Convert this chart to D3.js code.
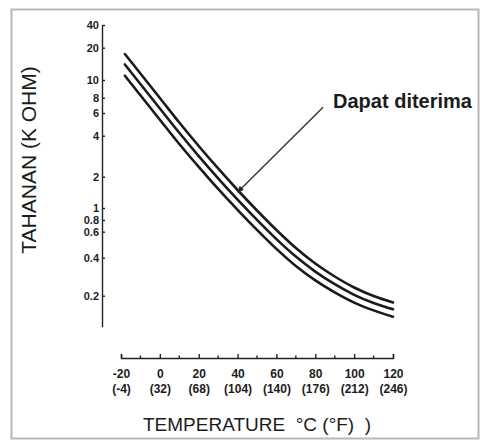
<!DOCTYPE html>
<html lang="id">
<head>
<meta charset="UTF-8">
<title>Tahanan vs Temperature</title>
<style>
  body { margin: 0; background: #fff; }
  svg { display: block; font-family: "Liberation Sans", Arial, sans-serif; }
  .axis path, .axis line { stroke: #222; stroke-width: 1.4; }
  .axis text { fill: #1c1c1c; font-family: "Liberation Sans", Arial, sans-serif; }
</style>
</head>
<body>
<svg width="480" height="441"></svg>
<script src="https://d3js.org/d3.v7.min.js"></script>
<script>
  // temperature (deg C) sampled along the curves
  var temps = [-18, 0, 10, 20, 30, 40, 50, 60, 70, 80, 90, 100, 110, 120];
  // resistance in k ohm, three parallel curves
  var upperBand = [17.47, 7.955, 5.063, 3.361, 2.298, 1.490, 0.9546, 0.6256, 0.4654, 0.3598, 0.2839, 0.2323, 0.1990, 0.1788];
  var middleBand = [13.95, 6.530, 4.213, 2.833, 1.930, 1.204, 0.8015, 0.5346, 0.4069, 0.3104, 0.2467, 0.2033, 0.1773, 0.1599];
  var lowerBand = [10.97, 5.323, 3.476, 2.360, 1.526, 0.9671, 0.6271, 0.4589, 0.3438, 0.2644, 0.2124, 0.1785, 0.1570, 0.1415];

  var yTicks = [40, 20, 10, 8, 6, 4, 2, 1, 0.8, 0.6, 0.4, 0.2];
  var yAxisEnd = 0.12;
  var xTicksC = [-20, 0, 20, 40, 60, 80, 100, 120];
  var xTicksF = ["(-4)", "(32)", "(68)", "(104)", "(140)", "(176)", "(212)", "(246)"];
  var xMinor = [-10, 10, 30, 50, 70, 90, 110];

  var arrowFrom = [84, 6.7];
  var arrowTo = [40, 1.42];
  var noteText = "Dapat diterima";

  var svg = d3.select("svg");

  // hand-drawn log axis: tick spacing is not uniform, so map each tick to where it sits
  var yTickPos = [25, 47.7, 80, 97.7, 113, 135.7, 176.7, 208, 220, 231.7, 257.7, 295.7, 326.7];

  var x = d3.scaleLinear().domain([-20, 120]).range([121, 393]);
  var y = d3.scaleLog().domain(yTicks.concat([yAxisEnd])).range(yTickPos);

  // scanned page frame
  svg.append("rect")
    .attr("x", 11.5).attr("y", 9.5)
    .attr("width", 467).attr("height", 429)
    .attr("fill", "none")
    .attr("stroke", "#b8b8b8")
    .attr("stroke-width", 2);

  // y axis
  var yAxis = d3.axisLeft(y)
    .tickValues(yTicks)
    .tickFormat(function(d) { return String(d); })
    .tickSizeInner(-3)
    .tickSizeOuter(0)
    .tickPadding(3);

  svg.append("g")
    .attr("class", "axis y")
    .attr("transform", "translate(102,0)")
    .call(yAxis)
    .selectAll("text")
    .style("font-size", "11px")
    .style("font-weight", "bold");

  // x axis, ticks pointing up
  var xAxis = d3.axisBottom(x)
    .tickValues(xTicksC)
    .tickFormat(function(d) { return String(d); })
    .tickSizeInner(-4)
    .tickSizeOuter(-4)
    .tickPadding(11);

  var gx = svg.append("g")
    .attr("class", "axis x")
    .attr("transform", "translate(0,358)")
    .call(xAxis);

  gx.selectAll(".tick text")
    .style("font-size", "12px")
    .style("font-weight", "bold");

  gx.selectAll(".tick")
    .append("text")
    .attr("y", 35)
    .attr("fill", "#1c1c1c")
    .style("font-size", "12px")
    .style("font-weight", "bold")
    .text(function(d, i) { return xTicksF[i]; });

  gx.selectAll(".minor")
    .data(xMinor)
    .enter()
    .append("line")
    .attr("class", "minor")
    .attr("x1", function(d) { return x(d); })
    .attr("x2", function(d) { return x(d); })
    .attr("y1", 0)
    .attr("y2", -2.5);

  // curves
  var line = d3.line()
    .x(function(d) { return x(d[0]); })
    .y(function(d) { return y(d[1]); })
    .curve(d3.curveCatmullRom.alpha(0.5));

  [upperBand, middleBand, lowerBand].forEach(function(band) {
    svg.append("path")
      .datum(temps.map(function(t, i) { return [t, band[i]]; }))
      .attr("d", line)
      .attr("fill", "none")
      .attr("stroke", "#1a1a1a")
      .attr("stroke-width", 2.6)
      .attr("stroke-linecap", "round");
  });

  // annotation
  svg.append("defs").append("marker")
    .attr("id", "head")
    .attr("viewBox", "0 0 10 10")
    .attr("refX", 10).attr("refY", 5)
    .attr("markerWidth", 11).attr("markerHeight", 6)
    .attr("markerUnits", "userSpaceOnUse")
    .attr("orient", "auto")
    .append("path")
    .attr("d", "M0,0 L10,5 L0,10 Z")
    .attr("fill", "#222");

  svg.append("line")
    .attr("x1", x(arrowFrom[0])).attr("y1", y(arrowFrom[1]))
    .attr("x2", x(arrowTo[0])).attr("y2", y(arrowTo[1]))
    .attr("stroke", "#333")
    .attr("stroke-width", 1.4)
    .attr("marker-end", "url(#head)");

  svg.append("text")
    .attr("x", x(arrowFrom[0]) + 10)
    .attr("y", y(arrowFrom[1]) + 1)
    .attr("fill", "#1c1c1c")
    .style("font-size", "20px")
    .style("font-weight", "bold")
    .text(noteText);

  // axis titles
  svg.append("text")
    .attr("transform", "translate(36,160) rotate(-90)")
    .attr("text-anchor", "middle")
    .attr("fill", "#1c1c1c")
    .style("font-size", "21px")
    .text("TAHANAN (K OHM)");

  svg.append("text")
    .attr("x", 143)
    .attr("y", 431)
    .attr("fill", "#1c1c1c")
    .style("font-size", "19px")
    .style("white-space", "pre")
    .text("TEMPERATURE  \u00b0C (\u00b0F)  )");
</script>
</body>
</html>
